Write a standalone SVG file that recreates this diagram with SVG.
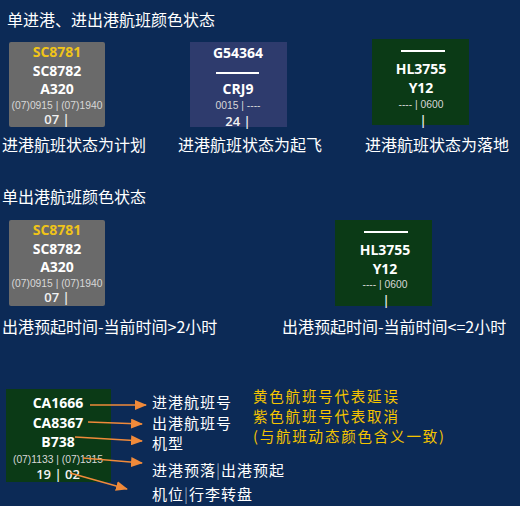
<svg xmlns="http://www.w3.org/2000/svg" width="520" height="506" viewBox="0 0 520 506">
<defs>
<style>
.bg{fill:#0c2a56}
.cn{font-family:"Noto Sans CJK SC","Noto Sans",sans-serif;font-size:16px;fill:#ffffff}
.lb{font-family:"Noto Sans CJK SC","Noto Sans",sans-serif;font-size:15px;letter-spacing:1px;fill:#ffffff}
.yl{font-family:"Noto Sans CJK SC","Noto Sans",sans-serif;font-size:14.5px;letter-spacing:1.8px;fill:#f5c400}
.b{font-family:"Open Sans","Liberation Sans",sans-serif;font-weight:bold;font-size:14px;fill:#ffffff;text-anchor:middle}
.s{font-family:"Liberation Sans",Arial,sans-serif;font-size:10.3px;fill:#d8d8d8;text-anchor:middle}
.m{font-family:"Open Sans","Liberation Sans",sans-serif;font-size:13px;font-weight:600;fill:#f2f2f2;text-anchor:middle}
.grey{fill:#6a6a6a}
.blue{fill:#2e3b6d}
.green{fill:#0b3a16}
.ln{stroke:#ffffff;stroke-width:2}
.ar{stroke:#f08a3a;stroke-width:1.6;fill:none;marker-end:url(#ah)}
.bar{fill:#8a9ab8}
</style>
<marker id="ah" markerWidth="12" markerHeight="10" refX="11" refY="5" orient="auto" markerUnits="userSpaceOnUse">
<path d="M0,0 L12,5 L0,10 Z" fill="#f08a3a"/>
</marker>
</defs>
<rect class="bg" x="0" y="0" width="520" height="506"/>

<text class="cn" x="7" y="26">单进港、进出港航班颜色状态</text>

<g id="node-plan-in">
<rect class="grey" x="9" y="42" width="96" height="85" rx="2"/>
<text class="b" x="57" y="57" style="fill:#f0c419">SC8781</text>
<text class="b" x="57" y="76">SC8782</text>
<text class="b" x="57" y="94">A320</text>
<text class="s" x="57" y="109">(07)0915 | (07)1940</text>
<text class="m" x="57" y="124">07 |</text>
</g>
<text class="cn" x="2" y="151">进港航班状态为计划</text>

<g id="node-takeoff-in">
<rect class="blue" x="190" y="42" width="97" height="85"/>
<text class="b" x="238" y="58">G54364</text>
<line class="ln" x1="216" y1="73" x2="259" y2="73"/>
<text class="b" x="238" y="94">CRJ9</text>
<text class="s" x="238" y="109">0015 | ----</text>
<text class="m" x="238" y="126">24 |</text>
</g>
<text class="cn" x="178" y="151">进港航班状态为起飞</text>

<g id="node-landed-in">
<rect class="green" x="372" y="39" width="97" height="86"/>
<line class="ln" x1="401" y1="51" x2="445" y2="51"/>
<text class="b" x="421" y="74">HL3755</text>
<text class="b" x="421" y="93">Y12</text>
<text class="s" x="421" y="108">---- | 0600</text>
<text class="m" x="423" y="125">|</text>
</g>
<text class="cn" x="365" y="151">进港航班状态为落地</text>

<text class="cn" x="2" y="203">单出港航班颜色状态</text>

<g id="node-out-gt2">
<rect class="grey" x="9" y="220" width="96" height="86" rx="2"/>
<text class="b" x="57" y="235" style="fill:#f0c419">SC8781</text>
<text class="b" x="57" y="254">SC8782</text>
<text class="b" x="57" y="272">A320</text>
<text class="s" x="57" y="287">(07)0915 | (07)1940</text>
<text class="m" x="57" y="302">07 |</text>
</g>
<text class="cn" x="2" y="333">出港预起时间-当前时间&gt;2小时</text>

<g id="node-out-le2">
<rect class="green" x="335" y="220" width="97" height="86"/>
<line class="ln" x1="364" y1="232" x2="408" y2="232"/>
<text class="b" x="385" y="255">HL3755</text>
<text class="b" x="385" y="274">Y12</text>
<text class="s" x="385" y="288">---- | 0600</text>
<text class="m" x="386" y="305">|</text>
</g>
<text class="cn" x="282" y="333">出港预起时间-当前时间&lt;=2小时</text>

<g id="node-legend">
<rect class="green" x="6" y="389" width="105" height="93"/>
<text class="b" x="58" y="408">CA1666</text>
<text class="b" x="58" y="428">CA8367</text>
<text class="b" x="58" y="447">B738</text>
<text class="s" x="58" y="463">(07)1133 | (07)1315</text>
<text class="m" x="58" y="479">19 | 02</text>
</g>

<g id="connectors">
<line class="ar" x1="90" y1="405" x2="146" y2="405"/>
<line class="ar" x1="88" y1="422" x2="142" y2="424"/>
<line class="ar" x1="75" y1="437" x2="142" y2="441"/>
<line class="ar" x1="83" y1="458" x2="142" y2="463"/>
<line class="ar" x1="70" y1="473" x2="127" y2="489"/>
</g>

<g id="labels">
<text class="lb" x="152" y="408">进港航班号</text>
<text class="lb" x="152" y="428.5">出港航班号</text>
<text class="lb" x="152" y="449">机型</text>
<text class="lb" x="152" y="476">进港预落<tspan class="bar">|</tspan>出港预起</text>
<text class="lb" x="152" y="500">机位<tspan class="bar">|</tspan>行李转盘</text>
</g>

<text class="yl" x="253" y="402">黄色航班号代表延误</text>
<text class="yl" x="253" y="421.5">紫色航班号代表取消</text>
<text class="yl" x="253" y="442">(与航班动态颜色含义一致)</text>
</svg>
